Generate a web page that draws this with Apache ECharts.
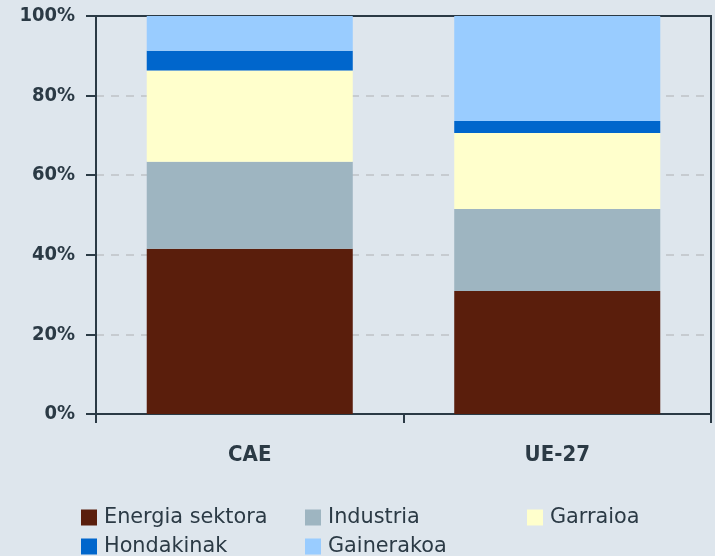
<!DOCTYPE html>
<html>
<head>
<meta charset="utf-8">
<script src="https://cdn.jsdelivr.net/npm/echarts@6/dist/echarts.min.js"></script>
<style>
  html, body { margin: 0; padding: 0; background: #dee6ed; }
  #main { width: 715px; height: 556px; }
</style>
</head>
<body>
<div id="main"></div>
<script>
// datuak (%)
const categories = ['CAE', 'UE-27'];
const energia = [41.5, 30.9];
const industria = [21.9, 20.6];
const garraioa = [22.9, 19.1];
const hondakinak = [5.0, 3.0];
const gainerakoa = [8.7, 26.4];
const yTicks = [0, 20, 40, 60, 80, 100];

const ink = '#2b3a45';
const fontAxis = '"DejaVu Sans Condensed", "DejaVu Sans", sans-serif';
const fontLegend = '"DejaVu Sans", sans-serif';

const chart = echarts.init(document.getElementById('main'));

function bar (name, data, color) {
  return {
    name: name,
    type: 'bar',
    stack: 'total',
    data: data,
    barWidth: '67%',
    itemStyle: { color: color }
  };
}

function legendCol (left, names) {
  return {
    orient: 'vertical',
    left: left,
    top: 507,
    height: 80,
    padding: 0,
    icon: 'rect',
    itemWidth: 16,
    itemHeight: 16,
    itemGap: 8,
    data: names,
    selectedMode: false,
    textStyle: {
      color: ink,
      fontFamily: fontLegend,
      fontSize: 20.8,
      lineHeight: 20,
      padding: [0, 0, 0, 2]
    }
  };
}

const option = {
  backgroundColor: '#dee6ed',
  animation: false,
  grid: {
    left: 96,
    right: 4,
    top: 16,
    bottom: 142,
    show: true,
    backgroundColor: 'transparent',
    borderColor: ink,
    borderWidth: 2
  },
  legend: [
    legendCol(81, ['Energia sektora', 'Hondakinak']),
    legendCol(305, ['Industria', 'Gainerakoa']),
    legendCol(527, ['Garraioa'])
  ],
  xAxis: {
    type: 'category',
    data: categories,
    boundaryGap: true,
    axisLine: { lineStyle: { color: ink, width: 2 } },
    axisTick: { show: true, length: 9, lineStyle: { color: ink, width: 2 } },
    axisLabel: {
      color: ink,
      fontFamily: fontAxis,
      fontWeight: 'bold',
      fontSize: 22,
      margin: 30
    }
  },
  yAxis: {
    type: 'value',
    min: yTicks[0],
    max: yTicks[yTicks.length - 1],
    interval: 20,
    axisLine: { show: true, lineStyle: { color: ink, width: 2 } },
    axisTick: { show: true, length: 10, lineStyle: { color: ink, width: 2 } },
    axisLabel: {
      color: ink,
      fontFamily: fontAxis,
      fontWeight: 'bold',
      fontSize: 20,
      margin: 21,
      formatter: '{value}%'
    },
    splitLine: {
      show: true,
      showMinLine: false,
      showMaxLine: false,
      lineStyle: { color: '#c6cbd0', width: 2, type: [8, 7] }
    }
  },
  series: [
    bar('Energia sektora', energia, '#5a1e0c'),
    bar('Industria', industria, '#9eb5c1'),
    bar('Garraioa', garraioa, '#ffffcc'),
    bar('Hondakinak', hondakinak, '#0066cc'),
    bar('Gainerakoa', gainerakoa, '#99ccff')
  ]
};

chart.setOption(option);
</script>
</body>
</html>
